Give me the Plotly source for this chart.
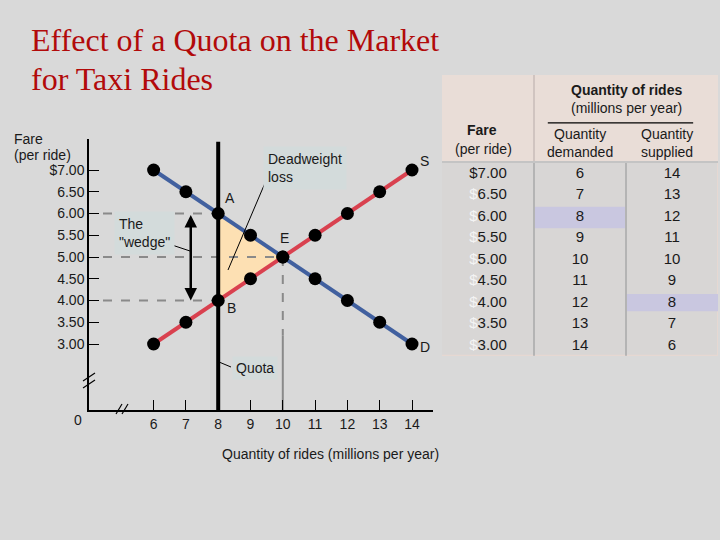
import plotly.graph_objects as go

# ---- data ----
fares = [7.00, 6.50, 6.00, 5.50, 5.00, 4.50, 4.00, 3.50, 3.00]
qty_demanded = [6, 7, 8, 9, 10, 11, 12, 13, 14]
qty_supplied = [14, 13, 12, 11, 10, 9, 8, 7, 6]
fare_ticktext = ["$7.00", "6.50", "6.00", "5.50", "5.00", "4.50", "4.00", "3.50", "3.00"]
qty_ticks = [6, 7, 8, 9, 10, 11, 12, 13, 14]
quota = 8

# derived points
eq_idx = [i for i in range(len(fares)) if qty_demanded[i] == qty_supplied[i]][0]
eq_q, eq_p = qty_demanded[eq_idx], fares[eq_idx]
dem_idx = qty_demanded.index(quota)
sup_idx = qty_supplied.index(quota)
p_dem = fares[dem_idx]   # A
p_sup = fares[sup_idx]   # B

W, H = 720, 540
def px(x):
    return x / W
def py(y):
    return 1 - y / H

BG = "#d9d9d9"
BLUE = "#41609f"
RED = "#d9414f"
TXT = "#1a1a1a"
FONT = "Liberation Sans, Arial, sans-serif"

fig = go.Figure()

# deadweight loss triangle
fig.add_trace(go.Scatter(
    x=[quota, eq_q, quota, quota], y=[p_dem, eq_p, p_sup, p_dem],
    fill="toself", fillcolor="#fde0b3", line=dict(width=0), mode="lines",
    hoverinfo="skip", showlegend=False, xaxis="x", yaxis="y"))

xmin = 4.0
dash_start = xmin + 14 / 32.3
# dashed guides
for (qq, pp) in [(quota, p_dem), (eq_q, eq_p), (quota, p_sup)]:
    fig.add_trace(go.Scatter(x=[dash_start, qq], y=[pp, pp], mode="lines",
                             line=dict(color="#8a8a8a", width=2, dash="dash"),
                             hoverinfo="skip", showlegend=False))
# vertical from E down
fig.add_trace(go.Scatter(x=[eq_q, eq_q], y=[eq_p, 3.2], mode="lines",
                         line=dict(color="#8a8a8a", width=2, dash="dash"),
                         hoverinfo="skip", showlegend=False))
fig.add_trace(go.Scatter(x=[eq_q, eq_q], y=[3.2, 1.483], mode="lines",
                         line=dict(color="#8a8a8a", width=2),
                         hoverinfo="skip", showlegend=False))
# quota line
fig.add_trace(go.Scatter(x=[quota, quota], y=[1.483, 7.65], mode="lines",
                         line=dict(color="black", width=4),
                         hoverinfo="skip", showlegend=False))

# demand & supply
fig.add_trace(go.Scatter(x=qty_demanded, y=fares, mode="lines+markers",
                         line=dict(color=BLUE, width=4),
                         marker=dict(color="black", size=13),
                         hoverinfo="skip", showlegend=False))
fig.add_trace(go.Scatter(x=qty_supplied, y=fares, mode="lines+markers",
                         line=dict(color=RED, width=4),
                         marker=dict(color="black", size=13),
                         hoverinfo="skip", showlegend=False))

# ---- table (on second axes) ----
cols = [0, 1, 2]
fade = '<span style="color:#f4f4f4">$</span>'
row_text_fare = [("$%.2f" % f) if i == 0 else fade + ("%.2f" % f) for i, f in enumerate(fares)]
TF = dict(family=FONT, size=15, color=TXT)
fig.add_trace(go.Scatter(x=[cols[0]] * len(fares), y=fares, text=row_text_fare, mode="text",
                         textfont=TF, xaxis="x2", yaxis="y2", hoverinfo="skip", showlegend=False))
fig.add_trace(go.Scatter(x=[cols[1]] * len(fares), y=fares, text=[str(v) for v in qty_demanded], mode="text",
                         textfont=TF, xaxis="x2", yaxis="y2", hoverinfo="skip", showlegend=False))
fig.add_trace(go.Scatter(x=[cols[2]] * len(fares), y=fares, text=[str(v) for v in qty_supplied], mode="text",
                         textfont=TF, xaxis="x2", yaxis="y2", hoverinfo="skip", showlegend=False))

shapes = []
# table header background and body
shapes.append(dict(type="rect", xref="x2", yref="y2", x0=-0.5, x1=2.5, y0=7.28, y1=9.30,
                   fillcolor="#e9ddd7", line=dict(width=0), layer="below"))
shapes.append(dict(type="rect", xref="x2", yref="y2", x0=-0.55, x1=2.5, y0=2.77, y1=7.28,
                   fillcolor="#d8d6d5", line=dict(color="#e6d8d2", width=2), layer="below"))
# highlights
shapes.append(dict(type="rect", xref="x2", yref="y2", x0=0.5, x1=1.5, y0=p_dem - 0.26, y1=p_dem + 0.24,
                   fillcolor="#c9c7e0", line=dict(width=0), layer="below"))
shapes.append(dict(type="rect", xref="x2", yref="y2", x0=1.5, x1=2.5, y0=p_sup - 0.19, y1=p_sup + 0.21,
                   fillcolor="#c9c7e0", line=dict(width=0), layer="below"))
# dividers
shapes.append(dict(type="line", xref="x2", yref="y2", x0=0.5, x1=0.5, y0=2.77, y1=7.28,
                   line=dict(color="#b4b4b4", width=2)))
shapes.append(dict(type="line", xref="x2", yref="y2", x0=1.5, x1=1.5, y0=2.77, y1=7.28,
                   line=dict(color="#b4b4b4", width=2)))
shapes.append(dict(type="line", xref="x2", yref="y2", x0=0.5, x1=0.5, y0=7.28, y1=9.30,
                   line=dict(color="#d0c4c0", width=2)))
shapes.append(dict(type="line", xref="x2", yref="y2", x0=-0.5, x1=2.5, y0=7.28, y1=7.28,
                   line=dict(color="#c4c4c4", width=2)))
# header rule
shapes.append(dict(type="line", xref="x2", yref="y2", x0=0.65, x1=2.23, y0=8.19, y1=8.19,
                   line=dict(color="black", width=1.2)))

# axis break marks
for (x0, y0, x1, y1) in [(83, 381, 95, 373), (83, 388, 95, 380),
                         (116, 414, 122, 404), (122, 414, 128, 404)]:
    shapes.append(dict(type="line", xref="paper", yref="paper", x0=px(x0), y0=py(y0), x1=px(x1), y1=py(y1),
                       line=dict(color="black", width=1.2)))
# leader lines
for (x0, y0, x1, y1) in [(265, 183, 228, 270), (172, 245, 190, 251), (219, 362, 231, 367)]:
    shapes.append(dict(type="line", xref="paper", yref="paper", x0=px(x0), y0=py(y0), x1=px(x1), y1=py(y1),
                       line=dict(color="black", width=1)))

annotations = []
def ann(text, x, y, size=13, xanchor="left", yanchor="middle", color=TXT, family=FONT, align="left", **kw):
    annotations.append(dict(text=text, x=px(x), y=py(y), xref="paper", yref="paper", showarrow=False,
                            xanchor=xanchor, yanchor=yanchor, align=align,
                            font=dict(size=size, color=color, family=family), **kw))

# title (two lines)
SERIF = "Liberation Serif, Times New Roman, serif"
ann("Effect of a Quota on the Market", 29, 40, size=32, color="#b20a0a", family=SERIF)
ann("for Taxi Rides", 29, 79, size=32, color="#b20a0a", family=SERIF)
ann("Fare", 12, 139, size=14)
ann("(per ride)", 12, 155, size=14)
ann("0", 78, 420, size=14, xanchor="center")
ann("Quantity of rides (millions per year)", 330, 454, size=14, xanchor="center")
ann("Deadweight<br>loss", 263, 168, size=14, bgcolor="#d3dbdb", borderpad=4)
ann('The<br>"wedge"', 114, 233, size=14, bgcolor="#d3dbdb", borderpad=4)
ann("Quota", 232, 368, size=14, bgcolor="#d3dbdb", borderpad=3)
ann("A", 223, 198, size=14)
ann("B", 225, 308, size=14)
ann("E", 278, 238, size=14)
ann("S", 418, 161, size=14)
ann("D", 418, 347, size=14)

# double-headed arrow (wedge)
annotations.append(dict(x=7.15, y=p_sup, ax=7.15, ay=p_dem, xref="x", yref="y", axref="x", ayref="y",
                        text="", showarrow=True, arrowhead=2, startarrowhead=2, arrowside="end+start",
                        arrowwidth=2.5, arrowsize=1, startarrowsize=1, arrowcolor="black"))

# table headers
def tann(text, x, y, size=14, bold=False):
    annotations.append(dict(text=("<b>%s</b>" % text) if bold else text, x=x, y=y, xref="x2", yref="y2",
                            showarrow=False, xanchor="center", yanchor="middle",
                            font=dict(size=size, color=TXT, family=FONT)))
tann("Quantity of rides", 1.5, 8.95, bold=True)
tann("(millions per year)", 1.5, 8.54)
tann("Fare", -0.07, 8.02, bold=True)
tann("(per ride)", -0.05, 7.58)
tann("Quantity<br>demanded", 1.0, 7.72)
tann("Quantity<br>supplied", 1.95, 7.72)

fig.update_layout(
    width=W, height=H, margin=dict(l=0, r=0, t=0, b=0),
    paper_bgcolor=BG, plot_bgcolor="rgba(0,0,0,0)",
    showlegend=False, shapes=shapes, annotations=annotations,
    xaxis=dict(domain=[px(89), px(433)], range=[xmin, 14.65], tickvals=qty_ticks,
               ticktext=[str(v) for v in qty_ticks], ticks="inside", ticklen=10, tickwidth=1.2,
               tickcolor="black", showline=True, linecolor="black", linewidth=1.5,
               showgrid=False, zeroline=False, tickfont=dict(size=14, color=TXT, family=FONT)),
    yaxis=dict(domain=[py(410), py(139)], range=[1.483, 7.713], tickvals=fares,
               ticktext=fare_ticktext, ticks="inside", ticklen=10, tickwidth=1.2,
               tickcolor="black", showline=True, linecolor="black", linewidth=1.5,
               showgrid=False, zeroline=False, tickfont=dict(size=14, color=TXT, family=FONT)),
    xaxis2=dict(domain=[px(442), px(718)], range=[-0.5, 2.5], visible=False, anchor="y2"),
    yaxis2=dict(domain=[py(356), py(75)], range=[2.767, 9.302], visible=False, anchor="x2"),
)

fig.write_html("out.html", config={"displayModeBar": False},
               post_script="document.body.style.margin='0';document.body.style.overflow='hidden';")
